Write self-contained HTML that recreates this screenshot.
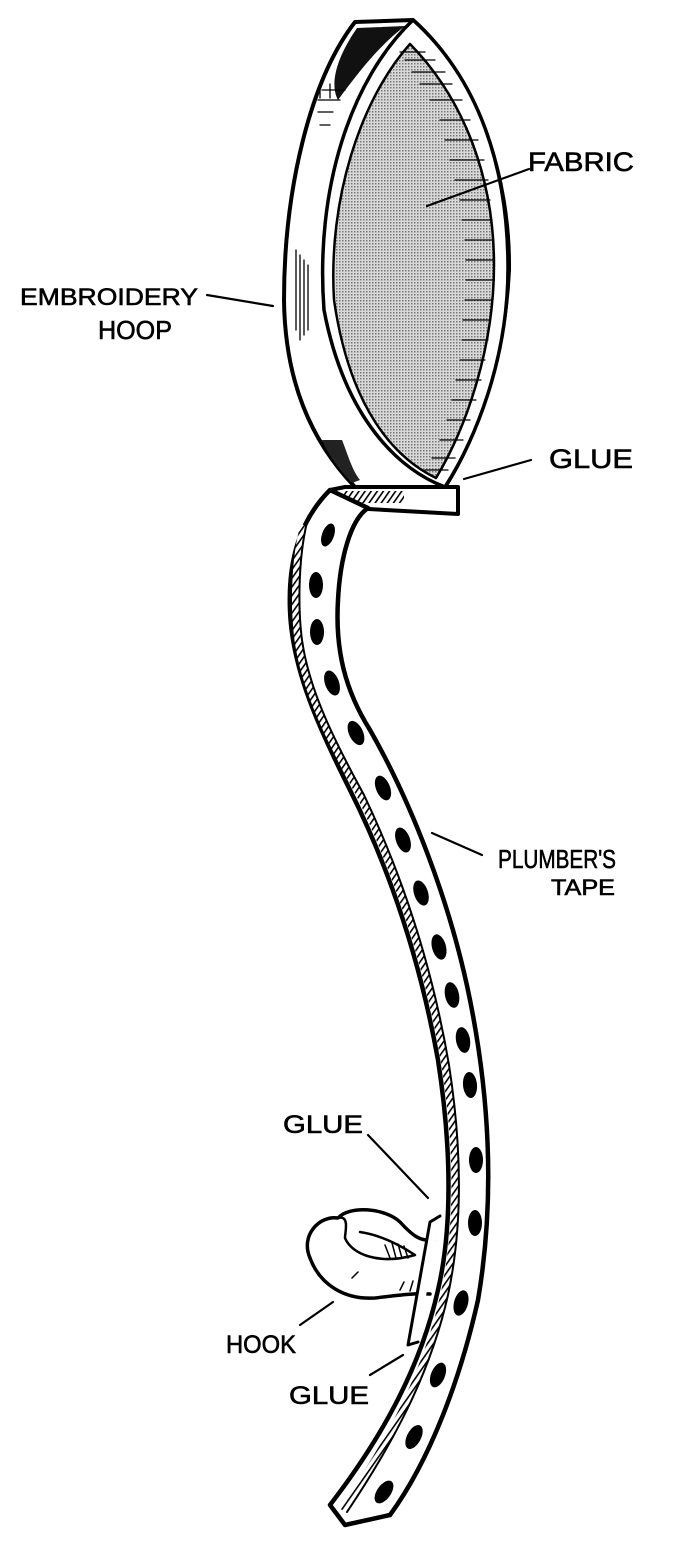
<!DOCTYPE html>
<html><head><meta charset="utf-8"><style>
html,body{margin:0;padding:0;background:#fff;}
svg{display:block}
text{font-family:"Liberation Sans",sans-serif;fill:#000;stroke:#000;stroke-width:0.6;}
</style></head><body>
<svg width="689" height="1542" viewBox="0 0 689 1542" xmlns="http://www.w3.org/2000/svg">
<defs>
<pattern id="dots" width="3" height="3" patternUnits="userSpaceOnUse">
<rect width="3" height="3" fill="#d8d8d8"/><rect width="1.5" height="1.5" fill="#777"/>
</pattern>
<pattern id="hatch" width="5" height="5" patternUnits="userSpaceOnUse" patternTransform="rotate(35)">
<rect width="5" height="5" fill="#fff"/><rect width="1.6" height="5" fill="#000"/>
</pattern>
</defs>
<g fill="none" stroke="#000" stroke-linecap="round" stroke-linejoin="round">
<!-- hoop back rim -->
<path d="M355,22 L413,20 C480,80 510,180 509,270 C505,360 475,440 445,487 L355,487 C310,440 285,380 284,300 C284,190 310,80 355,22 Z" fill="#fff" stroke-width="4"/>
<!-- dark shading top -->
<path d="M357,28 L405,26 C380,45 360,70 338,100 C330,85 335,60 357,28 Z" fill="#111" stroke="none"/>
<path d="M322,90 L345,90 M318,100 L340,100 M320,84 L320,98 M330,84 L330,98 M318,112 L333,112 M320,125 L330,125" stroke-width="1.3"/>
<path d="M296,330 L296,250 M300,340 L300,255 M304,335 L304,260 M308,330 L308,265" stroke-width="1.3"/>
<path d="M352,483 C335,465 326,450 322,440 L342,440 C348,455 352,470 360,480 Z" fill="#222" stroke="none"/>
<!-- front rim -->
<path d="M413,20 C480,80 508,170 508,268 C508,360 475,440 445,487 C400,470 345,420 324,310 C315,190 350,80 413,20 Z" fill="#fff" stroke-width="3.5"/>
<!-- fabric -->
<path d="M410,44 C465,100 494,180 494,265 C494,350 465,430 436,478 C395,458 350,410 334,300 C328,200 360,100 410,44 Z" fill="url(#dots)" stroke-width="2.5"/>
<g stroke-width="1.3">
<path d="M400,52 L425,52 M405,60 L435,60 M412,72 L445,72 M420,84 L452,84 M430,100 L462,100 M440,120 L470,120 M445,140 L478,140 M450,160 L484,160 M455,180 L488,180 M460,200 L490,200 M462,220 L492,220 M465,240 L493,240 M466,260 L493,260 M466,280 L493,280 M465,300 L492,300 M463,320 L490,320 M462,340 L488,340 M460,360 L485,360 M456,380 L481,380 M452,400 L476,400 M447,420 L470,420 M440,440 L463,440 M432,458 L455,458 M425,470 L448,470"/>
</g>
<!-- glue bar -->
<path d="M330,490 L345,487 L458,487 L458,514 L350,508 L330,500 Z" fill="#fff" stroke-width="4"/>
<rect x="342" y="491" width="62" height="12" fill="url(#hatch)" stroke="none"/>
<!-- plumber's tape -->
<path d="M330,490 C300,520 288,560 290,610 C292,670 320,730 350,790 C390,870 420,960 438,1060 C452,1150 452,1230 438,1290 C420,1370 380,1440 330,1505 L345,1525 L390,1515 C430,1460 460,1380 478,1300 C495,1200 490,1100 470,1000 C450,900 410,800 370,730 C345,690 335,650 338,600 C340,560 350,520 368,508 Z" fill="#fff" stroke-width="4.5"/>
<path d="M304,525 C294,560 294,610 298,640 C305,690 330,740 360,795 C398,875 428,965 445,1065 C459,1155 458,1230 444,1295 C426,1375 388,1445 342,1510" stroke="url(#hatch)" stroke-width="7" stroke-linecap="butt"/>
<path d="M307,522 C298,560 298,610 302,640 C309,690 334,740 364,795 C402,875 432,965 449,1065 C463,1155 462,1230 448,1295 C430,1375 392,1445 347,1512" stroke-width="2"/>
<!-- hook -->
<path d="M434,1240 C420,1242 412,1235 400,1222 C385,1208 350,1205 338,1218 C320,1215 300,1235 310,1258 C320,1285 345,1300 375,1298 C400,1295 415,1293 430,1294" fill="#fff" stroke-width="3.5"/>
<path d="M338,1218 C350,1215 345,1232 345,1238 C352,1255 380,1265 415,1255 C400,1245 380,1235 360,1232" fill="#fff" stroke-width="2.5"/>
<path d="M385,1245 L390,1258 M392,1243 L396,1258 M398,1244 L402,1258 M404,1246 L408,1258 M400,1290 L404,1282 M410,1291 L413,1281 M352,1278 L358,1272" stroke-width="1.5"/>
<path d="M440,1216 L430,1222 L408,1345 L418,1342" fill="#fff" stroke-width="3"/>
</g>
<!-- holes -->
<g fill="#000">
<ellipse cx="328" cy="535" rx="6" ry="12" transform="rotate(20 328 535)"/>
<ellipse cx="316" cy="585" rx="7" ry="13"/>
<ellipse cx="317" cy="632" rx="7" ry="13"/>
<ellipse cx="332" cy="683" rx="7" ry="13" transform="rotate(-20 332 683)"/>
<ellipse cx="356" cy="733" rx="7" ry="13" transform="rotate(-25 356 733)"/>
<ellipse cx="383" cy="788" rx="7" ry="13" transform="rotate(-22 383 788)"/>
<ellipse cx="403" cy="840" rx="7" ry="13" transform="rotate(-20 403 840)"/>
<ellipse cx="421" cy="893" rx="7" ry="13" transform="rotate(-18 421 893)"/>
<ellipse cx="439" cy="947" rx="7" ry="13" transform="rotate(-15 439 947)"/>
<ellipse cx="452" cy="995" rx="7" ry="13" transform="rotate(-12 452 995)"/>
<ellipse cx="463" cy="1040" rx="7" ry="13" transform="rotate(-10 463 1040)"/>
<ellipse cx="470" cy="1085" rx="7" ry="13" transform="rotate(-5 470 1085)"/>
<ellipse cx="476" cy="1160" rx="7" ry="13"/>
<ellipse cx="475" cy="1223" rx="7" ry="13"/>
<ellipse cx="461" cy="1303" rx="7" ry="13" transform="rotate(15 461 1303)"/>
<ellipse cx="438" cy="1375" rx="7" ry="13" transform="rotate(22 438 1375)"/>
<ellipse cx="414" cy="1437" rx="7" ry="13" transform="rotate(28 414 1437)"/>
<ellipse cx="384" cy="1492" rx="7" ry="13" transform="rotate(35 384 1492)"/>
</g>
<!-- leaders -->
<g stroke="#000" stroke-width="2.2" fill="none" stroke-linecap="round">
<path d="M427,206 L529,169"/>
<path d="M207,295 L273,306"/>
<path d="M464,479 L531,460"/>
<path d="M432,833 L482,855"/>
<path d="M368,1135 L428,1198"/>
<path d="M300,1325 L333,1302"/>
<path d="M370,1375 L403,1355"/>
</g>
<!-- labels -->
<text x="528" y="171" font-size="27" textLength="106" lengthAdjust="spacingAndGlyphs">FABRIC</text>
<text x="20" y="305" font-size="24" textLength="178" lengthAdjust="spacingAndGlyphs">EMBROIDERY</text>
<text x="98" y="339" font-size="26" textLength="74" lengthAdjust="spacingAndGlyphs">HOOP</text>
<text x="549" y="468" font-size="27" textLength="84" lengthAdjust="spacingAndGlyphs">GLUE</text>
<text x="498" y="868" font-size="26" textLength="118" lengthAdjust="spacingAndGlyphs">PLUMBER'S</text>
<text x="551" y="895" font-size="22" textLength="64" lengthAdjust="spacingAndGlyphs">TAPE</text>
<text x="283" y="1133" font-size="25" textLength="80" lengthAdjust="spacingAndGlyphs">GLUE</text>
<text x="226" y="1353" font-size="25" textLength="70" lengthAdjust="spacingAndGlyphs">HOOK</text>
<text x="289" y="1404" font-size="25" textLength="80" lengthAdjust="spacingAndGlyphs">GLUE</text>
</svg>
</body></html>
